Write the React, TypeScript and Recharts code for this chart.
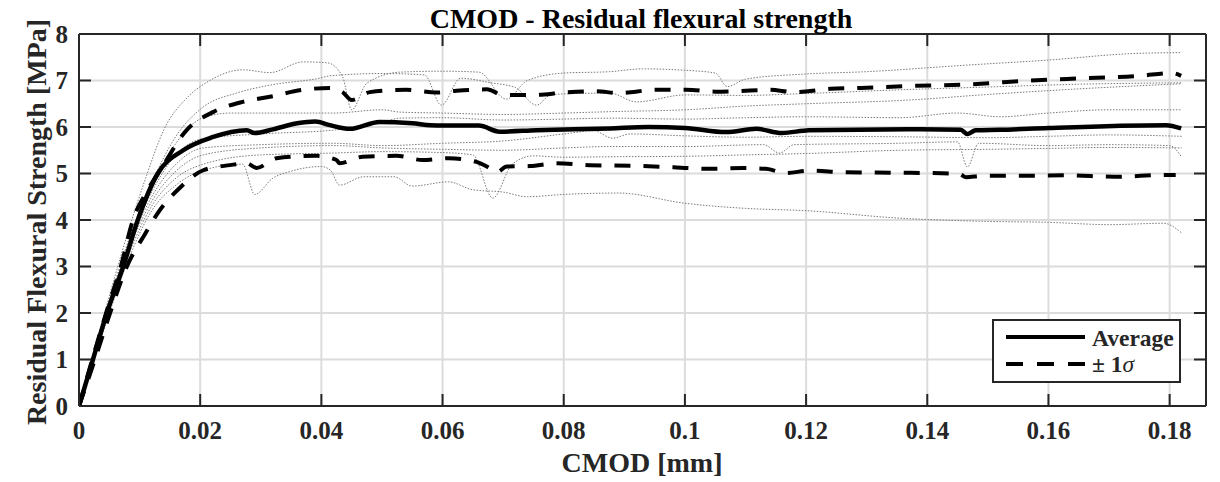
import { LineChart, Line, XAxis, YAxis, CartesianGrid } from "recharts";

type Pt = [number, number];

// CMOD [mm] vs residual flexural strength [MPa]
const average: Pt[] = [
  [0, 0], [0.0023, 1], [0.0046, 2], [0.0073, 3], [0.0097, 4], [0.013, 5],
  [0.0172, 5.5], [0.022, 5.78], [0.0277, 5.93], [0.029, 5.87], [0.032, 5.95],
  [0.036, 6.08], [0.039, 6.12], [0.0414, 6.04], [0.0447, 5.96], [0.0496, 6.11],
  [0.055, 6.08], [0.058, 6.04], [0.06, 6.03], [0.066, 6.03], [0.0694, 5.9],
  [0.0755, 5.93], [0.0876, 5.97], [0.094, 6.0], [0.1, 5.98], [0.1068, 5.89],
  [0.1118, 5.96], [0.116, 5.87], [0.1205, 5.93], [0.137, 5.95], [0.1455, 5.94],
  [0.1466, 5.85], [0.148, 5.93], [0.152, 5.94], [0.16, 5.98], [0.1794, 6.04],
  [0.1819, 5.97],
];

const upperSigma: Pt[] = [
  [0, 0], [0.0023, 1.05], [0.0046, 2.05], [0.007, 3.05], [0.0089, 4.0],
  [0.0109, 4.55], [0.0134, 5.07], [0.0178, 5.94], [0.0221, 6.32], [0.027, 6.54],
  [0.0315, 6.65], [0.037, 6.8], [0.0414, 6.84], [0.0435, 6.75], [0.045, 6.58],
  [0.048, 6.75], [0.054, 6.8], [0.059, 6.74], [0.0623, 6.78], [0.0673, 6.81],
  [0.07, 6.69], [0.0755, 6.69], [0.0798, 6.74], [0.0854, 6.77], [0.089, 6.73],
  [0.0953, 6.8], [0.1003, 6.8], [0.105, 6.76], [0.1085, 6.77], [0.114, 6.8],
  [0.118, 6.75], [0.124, 6.82], [0.129, 6.84], [0.1365, 6.88], [0.1474, 6.92],
  [0.157, 7.0], [0.166, 7.05], [0.175, 7.1], [0.1804, 7.16], [0.1819, 7.1],
];

const lowerSigma: Pt[] = [
  [0, 0], [0.0025, 0.95], [0.005, 1.95], [0.0079, 3.0], [0.0109, 3.7],
  [0.013, 4.15], [0.0167, 4.7], [0.0205, 5.07], [0.0249, 5.18], [0.0277, 5.22],
  [0.0293, 5.12], [0.0326, 5.33], [0.0392, 5.38], [0.0425, 5.29], [0.043, 5.22],
  [0.0468, 5.36], [0.0524, 5.38], [0.0567, 5.29], [0.061, 5.33], [0.0656, 5.25],
  [0.0673, 5.15], [0.069, 5.03], [0.0706, 5.15], [0.0744, 5.16], [0.0788, 5.22],
  [0.0843, 5.18], [0.093, 5.16], [0.0986, 5.13], [0.104, 5.1], [0.1095, 5.12],
  [0.1134, 5.1], [0.1167, 5.01], [0.1205, 5.06], [0.126, 5.03], [0.1316, 5.02],
  [0.1408, 5.01], [0.1453, 4.99], [0.1464, 4.92], [0.149, 4.95], [0.157, 4.95],
  [0.163, 4.96], [0.171, 4.93], [0.1794, 4.97], [0.181, 4.97],
];

// individual specimens (thin dotted)
const specA: Pt[] = [
  [0, 0], [0.004, 1.9], [0.008, 3.7], [0.011, 4.9], [0.014, 5.94], [0.018, 6.65],
  [0.0216, 7.0], [0.027, 7.23], [0.0315, 7.17], [0.037, 7.4], [0.041, 7.38],
  [0.0435, 7.08], [0.045, 6.37], [0.0475, 6.94], [0.053, 7.18], [0.06, 7.2],
  [0.066, 7.18], [0.0705, 6.6], [0.074, 7.0], [0.08, 7.16], [0.0876, 7.19],
  [0.093, 7.25], [0.1, 7.22], [0.105, 7.16], [0.107, 6.87], [0.11, 7.03],
  [0.12, 7.14], [0.13, 7.19], [0.1464, 7.33], [0.16, 7.44], [0.174, 7.58],
  [0.182, 7.6],
];
const specB: Pt[] = [
  [0, 0], [0.004, 1.8], [0.008, 3.5], [0.012, 4.8], [0.016, 5.8], [0.0205, 6.43],
  [0.026, 6.73], [0.0315, 6.9], [0.0397, 7.05], [0.0414, 7.1], [0.05, 7.15],
  [0.057, 7.12], [0.0598, 6.47], [0.063, 7.05], [0.068, 6.95], [0.072, 6.85],
  [0.0755, 6.47], [0.078, 6.7], [0.0876, 6.73], [0.092, 6.54], [0.1, 6.69],
  [0.11, 6.68], [0.12, 6.72], [0.1354, 6.8], [0.15, 6.86], [0.165, 6.92],
  [0.182, 6.95],
];
const specC: Pt[] = [
  [0, 0], [0.004, 1.8], [0.008, 3.45], [0.012, 4.7], [0.016, 5.65], [0.0205, 6.2],
  [0.025, 6.3], [0.032, 6.3], [0.042, 6.3], [0.05, 6.37], [0.053, 6.32],
  [0.06, 6.3], [0.07, 6.27], [0.08, 6.3], [0.0876, 6.33], [0.1, 6.37],
  [0.11, 6.45], [0.12, 6.5], [0.137, 6.58], [0.15, 6.7], [0.165, 6.82],
  [0.182, 6.93],
];
const specD: Pt[] = [
  [0, 0], [0.004, 1.75], [0.008, 3.4], [0.012, 4.6], [0.016, 5.4], [0.0205, 5.75],
  [0.03, 5.85], [0.0425, 5.94], [0.05, 6.1], [0.053, 6.19], [0.06, 6.2],
  [0.07, 6.15], [0.08, 6.17], [0.0876, 6.19], [0.1, 6.17], [0.11, 6.2],
  [0.12, 6.22], [0.1354, 6.2], [0.145, 6.3], [0.152, 6.22], [0.16, 6.3],
  [0.17, 6.37], [0.182, 6.37],
];
const specE: Pt[] = [
  [0, 0], [0.004, 1.75], [0.008, 3.35], [0.012, 4.5], [0.016, 5.2], [0.0205, 5.55],
  [0.03, 5.62], [0.042, 5.65], [0.05, 5.6], [0.06, 5.65], [0.07, 5.7],
  [0.08, 5.85], [0.085, 5.92], [0.088, 5.76], [0.091, 5.85], [0.1, 5.81],
  [0.11, 5.78], [0.12, 5.8], [0.1354, 5.79], [0.15, 5.77], [0.16, 5.8],
  [0.17, 5.83], [0.182, 5.8],
];
const specF: Pt[] = [
  [0, 0], [0.004, 1.7], [0.008, 3.3], [0.012, 4.4], [0.016, 5.05], [0.0205, 5.4],
  [0.03, 5.55], [0.042, 5.6], [0.05, 5.55], [0.06, 5.52], [0.07, 5.5],
  [0.08, 5.55], [0.0876, 5.58], [0.1, 5.58], [0.113, 5.62], [0.1156, 5.44],
  [0.118, 5.62], [0.1354, 5.65], [0.145, 5.68], [0.1466, 5.14], [0.1485, 5.65],
  [0.16, 5.6], [0.17, 5.62], [0.18, 5.6], [0.182, 5.35],
];
const specG: Pt[] = [
  [0, 0], [0.004, 1.65], [0.008, 3.2], [0.012, 4.3], [0.016, 4.9], [0.0205, 5.2],
  [0.03, 5.4], [0.042, 5.44], [0.05, 5.47], [0.06, 5.45], [0.065, 5.4],
  [0.0683, 4.47], [0.0715, 5.2], [0.075, 5.38], [0.08, 5.35], [0.0876, 5.36],
  [0.1, 5.37], [0.11, 5.4], [0.12, 5.43], [0.1354, 5.5], [0.15, 5.52],
  [0.16, 5.54], [0.17, 5.56], [0.182, 5.55],
];
const specH: Pt[] = [
  [0, 0], [0.004, 1.6], [0.008, 3.1], [0.012, 4.2], [0.016, 4.75], [0.0205, 5.07],
  [0.027, 5.2], [0.029, 4.55], [0.032, 4.9], [0.035, 5.05], [0.04, 5.15],
  [0.0415, 5.07], [0.043, 4.75], [0.047, 4.93], [0.052, 4.93], [0.055, 4.73],
  [0.061, 4.82], [0.065, 4.65], [0.07, 4.6], [0.074, 4.5], [0.08, 4.55],
  [0.089, 4.58], [0.1, 4.36], [0.11, 4.25], [0.12, 4.2], [0.1354, 4.04],
  [0.15, 3.97], [0.16, 3.95], [0.17, 3.9], [0.179, 3.93], [0.182, 3.72],
];

const specimens = [specA, specB, specC, specD, specE, specF, specG, specH];

const xTicks = [0, 0.02, 0.04, 0.06, 0.08, 0.1, 0.12, 0.14, 0.16, 0.18];
const yTicks = [0, 1, 2, 3, 4, 5, 6, 7, 8];
const X_DOMAIN: [number, number] = [0, 0.186];
const Y_DOMAIN: [number, number] = [0, 8];

const toRows = (pts: Pt[]) => pts.map(([x, y]) => ({ x, y }));

const FONT = '"Liberation Serif", "Times New Roman", serif';
const INK = "#262626";
const GRID = "#dcdcdc";
const TICK_LEN = 12;
const PLOT_W = 1127;
const PLOT_H = 372;
const fmtX = (v: number) => (v === 0 ? "0" : String(+v.toFixed(2)));

// labels only, on bottom / left axes
const BottomTick = (p: any) => (
  <text x={Number(p.x)} y={Number(p.y)} dy="0.71em" textAnchor="middle" fill={INK}
    fontSize={25} fontWeight={700} fontFamily={FONT}>
    {fmtX(p.payload.value)}
  </text>
);
const LeftTick = (p: any) => (
  <text x={Number(p.x)} y={Number(p.y)} dy="0.355em" textAnchor="end" fill={INK}
    fontSize={25} fontWeight={700} fontFamily={FONT}>
    {p.payload.value}
  </text>
);
// inward tick marks at both ends of the box (MATLAB style)
const TopTick = (p: any) => {
  const x = Number(p.x);
  const y = Number(p.y);
  return (
    <g>
      <line x1={x} x2={x} y1={y} y2={y + TICK_LEN} stroke={INK} strokeWidth={2} />
      <line x1={x} x2={x} y1={y + PLOT_H - TICK_LEN} y2={y + PLOT_H} stroke={INK} strokeWidth={2} />
    </g>
  );
};
const RightTick = (p: any) => {
  const x = Number(p.x);
  const y = Number(p.y);
  return (
    <g>
      <line x1={x - TICK_LEN} x2={x} y1={y} y2={y} stroke={INK} strokeWidth={2} />
      <line x1={x - PLOT_W} x2={x - PLOT_W + TICK_LEN} y1={y} y2={y} stroke={INK} strokeWidth={2} />
    </g>
  );
};

export default function App() {
  return (
    <div style={{ position: "relative", width: 1204, height: 474, fontFamily: FONT, color: INK }}>
      <LineChart
        width={1204}
        height={474}
        margin={{ top: 25, right: 5, bottom: 0, left: 0 }}
      >
        <CartesianGrid stroke={GRID} strokeWidth={2} />
        <XAxis
          xAxisId="top"
          orientation="top"
          type="number"
          dataKey="x"
          domain={X_DOMAIN}
          ticks={xTicks}
          interval={0}
          allowDataOverflow
          height={1}
          tickSize={0}
          tickLine={false}
          tickMargin={0}
          tick={TopTick}
          stroke={INK}
          strokeWidth={2}
        />
        <YAxis
          yAxisId="right"
          orientation="right"
          type="number"
          dataKey="y"
          domain={Y_DOMAIN}
          ticks={yTicks}
          interval={0}
          allowDataOverflow
          width={1}
          tickSize={0}
          tickLine={false}
          tickMargin={0}
          tick={RightTick}
          stroke={INK}
          strokeWidth={2}
        />
        <XAxis
          type="number"
          dataKey="x"
          domain={X_DOMAIN}
          ticks={xTicks}
          interval={0}
          allowDataOverflow
          height={76}
          tickSize={0}
          tickLine={false}
          tickMargin={15}
          stroke={INK}
          strokeWidth={2}
          tick={BottomTick}
        />
        <YAxis
          type="number"
          dataKey="y"
          domain={Y_DOMAIN}
          ticks={yTicks}
          interval={0}
          allowDataOverflow
          width={71}
          tickSize={0}
          tickLine={false}
          tickMargin={11}
          stroke={INK}
          strokeWidth={2}
          tick={LeftTick}
        />
        {/* specimens sit on the top/right axes so that the box axes get drawn */}
        {specimens.map((s, i) => (
          <Line
            key={i}
            xAxisId="top"
            yAxisId="right"
            data={toRows(s)}
            dataKey="y"
            type="monotone"
            stroke="#7a7a7a"
            strokeWidth={1}
            strokeDasharray="1.5 1.5"
            dot={false}
            activeDot={false}
            isAnimationActive={false}
          />
        ))}
        <Line
          data={toRows(upperSigma)}
          dataKey="y"
          type="monotone"
          stroke="#000"
          strokeWidth={4}
          strokeDasharray="16 13"
          dot={false}
          activeDot={false}
          isAnimationActive={false}
        />
        <Line
          data={toRows(lowerSigma)}
          dataKey="y"
          type="monotone"
          stroke="#000"
          strokeWidth={4}
          strokeDasharray="16 13"
          dot={false}
          activeDot={false}
          isAnimationActive={false}
        />
        <Line
          data={toRows(average)}
          dataKey="y"
          type="monotone"
          stroke="#000"
          strokeWidth={4.5}
          dot={false}
          activeDot={false}
          isAnimationActive={false}
        />
      </LineChart>

      <div
        style={{
          position: "absolute",
          left: 633,
          top: -3,
          transform: "translateX(-50%)",
          fontSize: 28,
          lineHeight: 1,
          fontWeight: 700,
          whiteSpace: "nowrap",
          color: "#000",
        }}
      >
        CMOD - Residual flexural strength
      </div>
      <div
        style={{
          position: "absolute",
          left: 634,
          top: 441,
          transform: "translateX(-50%)",
          fontSize: 28,
          lineHeight: 1,
          fontWeight: 700,
          whiteSpace: "nowrap",
        }}
      >
        CMOD [mm]
      </div>
      <div
        style={{
          position: "absolute",
          left: 29,
          top: 214,
          transform: "translate(-50%, -50%) rotate(-90deg)",
          fontSize: 28,
          lineHeight: 1,
          fontWeight: 700,
          whiteSpace: "nowrap",
        }}
      >
        Residual Flexural Strength [MPa]
      </div>

      <svg
        width={189}
        height={64}
        style={{ position: "absolute", left: 984, top: 311 }}
      >
        <rect x={1} y={1} width={187} height={62} fill="#fff" stroke={INK} strokeWidth={2} />
        <line x1={14} y1={18} x2={93} y2={18} stroke="#000" strokeWidth={4} />
        <line x1={14} y1={45} x2={93} y2={45} stroke="#000" strokeWidth={4} strokeDasharray="17 14" />
        <text x={100} y={27} fontSize={23.5} fontWeight={700} fontFamily={FONT} fill={INK}>
          Average
        </text>
        <text x={100} y={53} fontSize={23.5} fontWeight={700} fontFamily={FONT} fill={INK}>
          ± 1<tspan fontStyle="italic" fontWeight={400}>σ</tspan>
        </text>
      </svg>
    </div>
  );
}
